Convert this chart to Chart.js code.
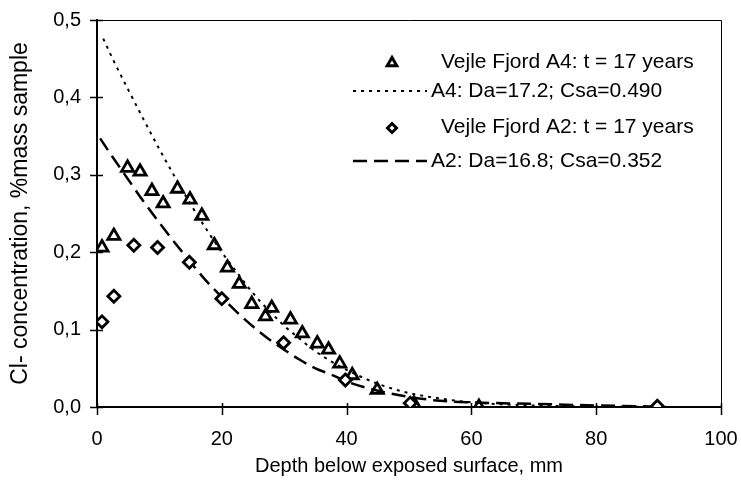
<!DOCTYPE html>
<html>
<head>
<meta charset="utf-8">
<script src="https://cdn.jsdelivr.net/npm/chart.js@4/dist/chart.umd.min.js"></script>
<style>
    html, body { margin: 0; padding: 0; background: #fff; }
    #wrap { width: 741px; height: 481px; }
</style>
</head>
<body>
<div id="wrap"><canvas id="cl_chart" width="741" height="481"></canvas></div>
<script>
// Measured profile, Vejle Fjord A4 (triangles)
const a4Depth = [0.8, 2.7, 4.9, 6.9, 8.8, 10.6, 12.9, 14.9, 16.8, 18.8, 20.9, 22.8, 24.8, 27, 28, 31, 32.9, 35.3, 37.1, 38.9, 40.9, 44.9, 50.8, 61.2];
const a4Cl    = [0.206, 0.221, 0.309, 0.304, 0.279, 0.263, 0.282, 0.268, 0.247, 0.209, 0.180, 0.159, 0.133, 0.117, 0.128, 0.113, 0.095, 0.082, 0.074, 0.056, 0.041, 0.022, 0.004, 0.0];

// Measured profile, Vejle Fjord A2 (diamonds)
const a2Depth = [0.8, 2.7, 5.9, 9.7, 14.8, 20, 29.9, 39.8, 50.2, 89.8];
const a2Cl    = [0.110, 0.143, 0.209, 0.206, 0.187, 0.140, 0.083, 0.035, 0.005, 0.001];

// Fitted curves
const fitA4Depth = [1, 2.5, 5, 7.5, 10, 12.5, 15, 17.5, 20, 22.5, 25, 27.5, 30, 32.5, 35, 37.5, 40, 45, 50, 55, 60, 70, 80, 90];
const fitA4Cl    = [0.476, 0.450, 0.410, 0.371, 0.333, 0.297, 0.262, 0.230, 0.200, 0.173, 0.147, 0.125, 0.105, 0.088, 0.072, 0.059, 0.048, 0.030, 0.018, 0.011, 0.006, 0.002, 0.0005, 0.0001];

const fitA2Depth = [0.5, 2.5, 5, 7.5, 10, 12.5, 15, 17.5, 20, 22.5, 25, 27.5, 30, 32.5, 35, 37.5, 40, 45, 50, 55, 60, 70, 80, 90];
const fitA2Cl    = [0.347, 0.323, 0.294, 0.265, 0.238, 0.212, 0.187, 0.163, 0.142, 0.122, 0.104, 0.088, 0.074, 0.061, 0.050, 0.042, 0.033, 0.021, 0.013, 0.008, 0.006, 0.004, 0.002, 0.0005];

const xTicks = [0, 20, 40, 60, 80, 100];
const yTicks = [0, 0.1, 0.2, 0.3, 0.4, 0.5];

const legendLabels = [
    'Vejle Fjord A4: t = 17 years',
    'A4: Da=17.2; Csa=0.490',
    'Vejle Fjord A2: t = 17 years',
    'A2: Da=16.8; Csa=0.352'
];

function toPoints(xs, ys) {
    return xs.map((x, i) => ({ x: x, y: ys[i] }));
}

const FONT = '"Liberation Sans", Arial, sans-serif';

// frame, crossing tick marks and the legend inside the plot
const decorPlugin = {
    id: 'decor',
    afterDraw(chart) {
        const ctx = chart.ctx;
        const area = chart.chartArea;
        const xs = chart.scales.x;
        const ys = chart.scales.y;

        ctx.save();
        ctx.strokeStyle = '#000';
        ctx.lineWidth = 1;
        ctx.beginPath();
        ctx.moveTo(area.left, area.top + 0.5);
        ctx.lineTo(area.right + 0.5, area.top + 0.5);
        ctx.lineTo(area.right + 0.5, area.bottom);
        ctx.stroke();

        ctx.lineWidth = 1.5;
        ctx.beginPath();
        yTicks.forEach(v => {
            const py = Math.round(ys.getPixelForValue(v)) + 0.5;
            ctx.moveTo(area.left - 7, py);
            ctx.lineTo(area.left + 6, py);
        });
        xTicks.forEach(v => {
            const px = Math.round(xs.getPixelForValue(v)) + 0.5;
            ctx.moveTo(px, area.bottom - 4);
            ctx.lineTo(px, area.bottom + 8);
        });
        ctx.stroke();

        // legend
        const rows = [62, 91, 127, 161];
        const sets = chart.data.datasets;
        ctx.font = '21px ' + FONT;
        ctx.textBaseline = 'middle';
        for (let i = 0; i < 4; i++) {
            const ds = sets[i];
            const y = rows[i];
            ctx.strokeStyle = '#000';
            if (ds.showLine) {
                ctx.lineWidth = ds.borderWidth;
                ctx.setLineDash(ds.borderDash);
                ctx.beginPath();
                ctx.moveTo(353, y);
                ctx.lineTo(427, y);
                ctx.stroke();
                ctx.setLineDash([]);
                ctx.fillStyle = '#000';
                ctx.fillText(legendLabels[i], 431, y);
            } else {
                ctx.fillStyle = '#fff';
                ctx.lineWidth = 3;
                Chart.helpers.drawPoint(ctx, {
                    pointStyle: ds.pointStyle,
                    radius: ds.pointRadius - 1.5,
                    borderWidth: 3,
                    rotation: 0
                }, 392, y + 1);
                ctx.fillStyle = '#000';
                ctx.fillText(legendLabels[i], 441, y);
            }
        }
        ctx.restore();
    }
};

const ctx = document.getElementById('cl_chart');

const clChart = new Chart(ctx, {
    type: 'scatter',
    data: {
        datasets: [{
            label: legendLabels[0],
            data: toPoints(a4Depth, a4Cl),
            pointStyle: 'triangle',
            pointRadius: 7,
            pointBorderWidth: 2.8,
            pointBackgroundColor: 'rgba(255,255,255,0)',
            pointBorderColor: '#000',
            showLine: false,
            order: 1
        }, {
            label: legendLabels[1],
            data: toPoints(fitA4Depth, fitA4Cl),
            showLine: true,
            borderColor: '#000',
            borderWidth: 2,
            borderDash: [3, 5],
            pointRadius: 0,
            tension: 0.3,
            cubicInterpolationMode: 'monotone',
            order: 2
        }, {
            label: legendLabels[2],
            data: toPoints(a2Depth, a2Cl),
            pointStyle: 'rectRot',
            pointRadius: 6,
            pointBorderWidth: 2.8,
            pointBackgroundColor: '#fff',
            pointBorderColor: '#000',
            showLine: false,
            order: 0
        }, {
            label: legendLabels[3],
            data: toPoints(fitA2Depth, fitA2Cl),
            showLine: true,
            borderColor: '#000',
            borderWidth: 2.5,
            borderDash: [14, 7],
            pointRadius: 0,
            tension: 0.3,
            cubicInterpolationMode: 'monotone',
            order: 3
        }]
    },
    options: {
        responsive: false,
        animation: false,
        layout: {
            padding: { top: 20, right: 20, left: 0, bottom: 0 }
        },
        plugins: {
            legend: { display: false },
            title: { display: false },
            tooltip: { enabled: false }
        },
        scales: {
            x: {
                type: 'linear',
                min: 0,
                max: 100,
                afterFit: function(scale) {
                    scale.height = 74;
                    scale.paddingLeft = 0;
                    scale.paddingRight = 0;
                },
                afterBuildTicks: function(scale) {
                    scale.ticks = xTicks.map(v => ({ value: v }));
                },
                grid: { display: false, drawTicks: false },
                border: { display: true, color: '#000', width: 2 },
                ticks: {
                    color: '#000',
                    padding: 20,
                    maxRotation: 0,
                    font: { family: FONT, size: 20 }
                },
                title: {
                    display: true,
                    text: 'Depth below exposed surface, mm',
                    color: '#000',
                    font: { family: FONT, size: 20 },
                    padding: { top: 0, bottom: 3 }
                }
            },
            y: {
                min: 0,
                max: 0.5,
                afterFit: function(scale) {
                    scale.width = 97;
                    scale.paddingTop = 0;
                    scale.paddingBottom = 0;
                },
                afterBuildTicks: function(scale) {
                    scale.ticks = yTicks.map(v => ({ value: v }));
                },
                grid: { display: false, drawTicks: false },
                border: { display: true, color: '#000', width: 2 },
                ticks: {
                    color: '#000',
                    padding: 16,
                    font: { family: FONT, size: 20 },
                    callback: function(value) {
                        return value.toFixed(1).replace('.', ',');
                    }
                },
                title: {
                    display: true,
                    text: 'Cl- concentration, %mass sample',
                    color: '#000',
                    font: { family: FONT, size: 23 },
                    padding: { top: 7, bottom: 0 }
                }
            }
        }
    },
    plugins: [decorPlugin]
});
</script>
</body>
</html>
